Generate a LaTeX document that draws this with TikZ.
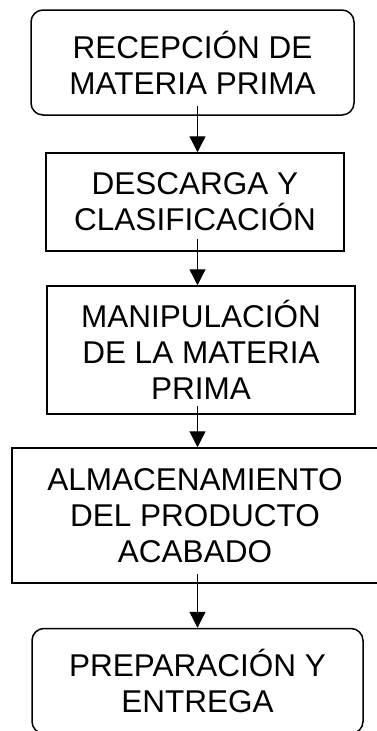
\documentclass[tikz,border=0pt]{standalone}
\usepackage{fontspec}
\setmainfont{Liberation Sans}
\usepackage{tikz}
\usetikzlibrary{arrows.meta}

\tikzset{
    paso/.style={draw, line width=1.5pt, align=center, inner sep=0pt,
        font=\fontsize{31.5}{36}\selectfont},
    terminal/.style={paso, rounded corners=12pt},
    flecha/.style={line width=1.3pt, -{Triangle[width=16pt,length=16pt]}}
}

\begin{document}
\begin{tikzpicture}[x=1pt, y=-1pt]
        \useasboundingbox (0,0) rectangle (377,731);

        % boxes
        \node[terminal, minimum width=323pt, minimum height=105pt] (recepcion) at (192.5,62.5)
            {RECEPCIÓN DE\\MATERIA PRIMA};
        \node[paso, minimum width=298pt, minimum height=98pt] (descarga) at (195,202)
            {DESCARGA Y\\CLASIFICACIÓN};
        \node[paso, minimum width=308pt, minimum height=128pt] (manipulacion) at (201,350)
            {MANIPULACIÓN\\DE LA MATERIA\\PRIMA};
        \node[paso, minimum width=366pt, minimum height=135pt] (almacen) at (195,515.5)
            {ALMACENAMIENTO\\DEL PRODUCTO\\ACABADO};
        \node[terminal, minimum width=331pt, minimum height=105pt] (entrega) at (197.5,681)
            {PREPARACIÓN Y\\ENTREGA};

        % arrows along one vertical line
        \coordinate (eje) at (197.5,0);
        \draw[flecha] ([yshift=10pt]recepcion.south -| eje) -- (descarga.north -| eje);
        \draw[flecha] ([yshift=13pt]descarga.south -| eje) -- (manipulacion.north -| eje);
        \draw[flecha] ([yshift=9pt]manipulacion.south -| eje) -- (almacen.north -| eje);
        \draw[flecha] ([yshift=10pt]almacen.south -| eje) -- (entrega.north -| eje);
    \end{tikzpicture}
\end{document}
